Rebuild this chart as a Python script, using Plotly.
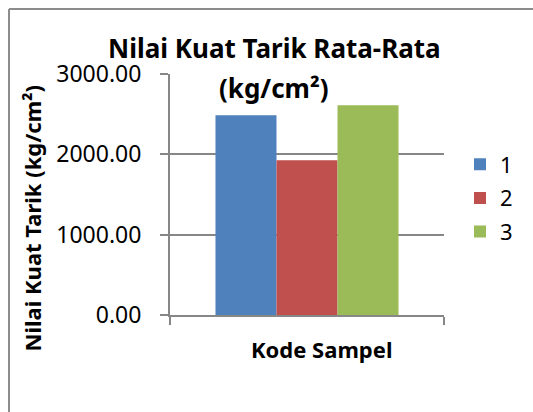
import plotly.graph_objects as go

categories = ["Kode Sampel"]
series_names = ["1", "2", "3"]
series_values = [2485, 1925, 2610]
colors = ["#4F81BD", "#C0504D", "#9BBB59"]
y_ticks = [0, 1000, 2000, 3000]

W, H = 533, 412
L, T = 170, 74
R = W - 444
B = H - 315
pw, ph = W - L - R, H - T - B

def px(x):
    return (x - L) / pw

def py(y):
    return (H - B - y) / ph

fig = go.Figure()
for name, val, col in zip(series_names, series_values, colors):
    fig.add_trace(go.Bar(x=categories, y=[val], name=name, marker_color=col,
                         marker_line_width=0, legendgroup=name))

grid = "#878787"
frame = "#8c8c8c"
font = "Noto Sans"
fig.update_layout(
    width=W, height=H,
    margin=dict(l=L, r=R, t=T, b=B, pad=0),
    paper_bgcolor="white", plot_bgcolor="white",
    barmode="group", bargap=0.332, bargroupgap=0,
    showlegend=True,
    legend=dict(x=px(460), xanchor="left", y=py(198), yanchor="middle",
                font=dict(family=font, size=22, color="black"),
                tracegroupgap=2, bgcolor="rgba(0,0,0,0)"),
    xaxis=dict(range=[-0.5, 0.5], showticklabels=False, showline=True,
               linecolor=grid, linewidth=2, ticks="outside", tickson="boundaries",
               ticklen=8, tickwidth=2, tickcolor=grid, showgrid=False, zeroline=False),
    yaxis=dict(range=[0, 3000], tickvals=y_ticks, tickformat=".2f", showline=True,
               linecolor=grid, linewidth=2, ticks="outside", ticklen=8, tickwidth=2,
               tickcolor=grid, showgrid=True, gridcolor=grid, gridwidth=2,
               zeroline=False, ticklabelstandoff=14,
               tickfont=dict(family=font, size=23, color="black")),
    shapes=[
        dict(type="line", xref="paper", yref="paper",
             x0=px(9), x1=px(9), y0=py(H), y1=py(9),
             line=dict(color=frame, width=2), layer="below"),
        dict(type="line", xref="paper", yref="paper",
             x0=px(9), x1=px(W), y0=py(9), y1=py(9),
             line=dict(color=frame, width=2), layer="below"),
    ],
    annotations=[
        dict(text="Nilai Kuat Tarik Rata-Rata", xref="paper", yref="paper",
             x=px(274), y=py(48), xanchor="center", yanchor="middle", showarrow=False,
             font=dict(family=font, size=26, color="black", weight="bold")),
        dict(text="(kg/cm²)", xref="paper", yref="paper",
             x=px(274), y=py(88), xanchor="center", yanchor="middle", showarrow=False,
             font=dict(family=font, size=26, color="black", weight="bold")),
        dict(text="Kode Sampel", xref="paper", yref="paper",
             x=px(321.5), y=py(349), xanchor="center", yanchor="middle", showarrow=False,
             font=dict(family=font, size=22, color="black", weight="bold")),
        dict(text="Nilai Kuat Tarik (kg/cm²)", xref="paper", yref="paper",
             x=px(31), y=py(218.5), xanchor="center", yanchor="middle", showarrow=False,
             textangle=-90,
             font=dict(family=font, size=22, color="black", weight="bold")),
    ],
)

fig.write_html(
    "out.html",
    config={"displayModeBar": False},
    post_script="document.documentElement.style.overflow='hidden';"
                "document.body.style.margin='0';document.body.style.overflow='hidden';",
)
